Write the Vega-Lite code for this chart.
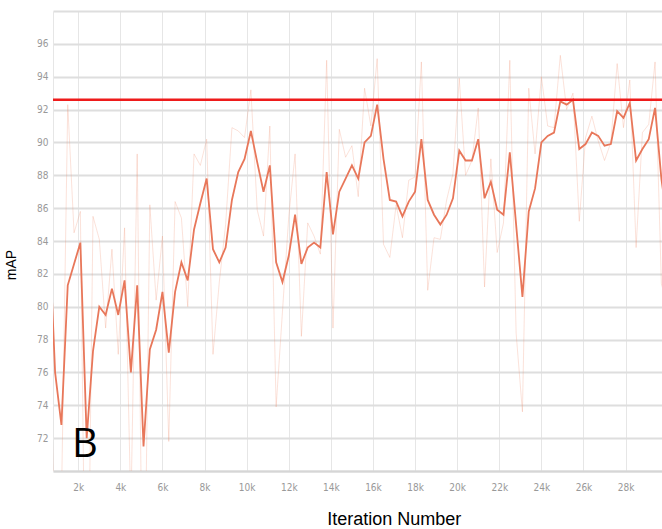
{
  "$schema": "https://vega.github.io/schema/vega-lite/v6.json",
  "width": 609,
  "height": 460,
  "autosize": {"type": "none"},
  "padding": {"left": 53, "top": 11, "right": 0, "bottom": 58},
  "background": "white",
  "config": {
    "view": {"stroke": null},
    "axisY": {
      "labelOverlap": false,
      "grid": true,
      "gridColor": "#dedede",
      "gridWidth": 2,
      "ticks": false,
      "domain": true,
      "domainColor": "#e6e6e6",
      "domainWidth": 1,
      "labelFont": "Liberation Sans Narrow, DejaVu Sans Condensed, sans-serif",
      "labelFontSize": 10,
      "labelColor": "#999999",
      "labelPadding": 5,
      "titleFont": "Liberation Sans",
      "titleFontSize": 14,
      "titleFontWeight": "normal",
      "titleColor": "#000000",
      "titleX": -38,
      "titleY": 253.5,
      "titleAngle": -90,
      "titleBaseline": "alphabetic"
    },
    "axisX": {
      "labelOverlap": false,
      "grid": true,
      "gridColor": "#e6e6e6",
      "gridWidth": 1,
      "ticks": false,
      "domain": true,
      "domainColor": "#d6d6d6",
      "domainWidth": 2,
      "labelFont": "Liberation Sans Narrow, DejaVu Sans Condensed, sans-serif",
      "labelFontSize": 10,
      "labelColor": "#999999",
      "labelPadding": 11,
      "titleFont": "Liberation Sans",
      "titleFontSize": 18,
      "titleFontWeight": "normal",
      "titleColor": "#000000",
      "titleX": 340.7,
      "titleY": 53,
      "titleBaseline": "alphabetic"
    }
  },
  "data": {
    "values": [
      {"iter": 600, "smoothed": 85.0, "raw": 85.0},
      {"iter": 900, "smoothed": 76.0, "raw": 62.5},
      {"iter": 1200, "smoothed": 72.8, "raw": 68.0},
      {"iter": 1500, "smoothed": 81.3, "raw": 92.3},
      {"iter": 1800, "smoothed": 82.6, "raw": 84.5},
      {"iter": 2100, "smoothed": 83.9, "raw": 85.8},
      {"iter": 2400, "smoothed": 72.0, "raw": 54.2},
      {"iter": 2700, "smoothed": 77.3, "raw": 85.5},
      {"iter": 3000, "smoothed": 80.0, "raw": 84.1},
      {"iter": 3300, "smoothed": 79.5, "raw": 78.7},
      {"iter": 3600, "smoothed": 81.1, "raw": 83.5},
      {"iter": 3900, "smoothed": 79.5, "raw": 77.1},
      {"iter": 4200, "smoothed": 81.6, "raw": 84.8},
      {"iter": 4500, "smoothed": 76.0, "raw": 67.6},
      {"iter": 4800, "smoothed": 81.3, "raw": 89.3},
      {"iter": 5100, "smoothed": 71.5, "raw": 56.8},
      {"iter": 5400, "smoothed": 77.4, "raw": 86.2},
      {"iter": 5700, "smoothed": 78.6, "raw": 80.4},
      {"iter": 6000, "smoothed": 80.9, "raw": 84.3},
      {"iter": 6300, "smoothed": 77.2, "raw": 71.8},
      {"iter": 6600, "smoothed": 80.9, "raw": 86.4},
      {"iter": 6900, "smoothed": 82.7, "raw": 85.4},
      {"iter": 7200, "smoothed": 81.6, "raw": 80.0},
      {"iter": 7500, "smoothed": 84.7, "raw": 89.3},
      {"iter": 7800, "smoothed": 86.3, "raw": 88.6},
      {"iter": 8100, "smoothed": 87.8, "raw": 90.2},
      {"iter": 8400, "smoothed": 83.5, "raw": 77.1},
      {"iter": 8700, "smoothed": 82.7, "raw": 81.5},
      {"iter": 9000, "smoothed": 83.6, "raw": 85.0},
      {"iter": 9300, "smoothed": 86.5, "raw": 90.9},
      {"iter": 9600, "smoothed": 88.2, "raw": 90.7},
      {"iter": 9900, "smoothed": 89.0, "raw": 90.3},
      {"iter": 10200, "smoothed": 90.7, "raw": 93.2},
      {"iter": 10500, "smoothed": 88.8, "raw": 85.9},
      {"iter": 10800, "smoothed": 87.0, "raw": 84.3},
      {"iter": 11100, "smoothed": 88.6, "raw": 91.0},
      {"iter": 11400, "smoothed": 82.7, "raw": 73.9},
      {"iter": 11700, "smoothed": 81.5, "raw": 79.7},
      {"iter": 12000, "smoothed": 83.1, "raw": 85.5},
      {"iter": 12300, "smoothed": 85.6, "raw": 89.3},
      {"iter": 12600, "smoothed": 82.6, "raw": 78.2},
      {"iter": 12900, "smoothed": 83.6, "raw": 85.1},
      {"iter": 13200, "smoothed": 83.9, "raw": 84.3},
      {"iter": 13500, "smoothed": 83.6, "raw": 83.2},
      {"iter": 13800, "smoothed": 88.2, "raw": 95.0},
      {"iter": 14100, "smoothed": 84.4, "raw": 78.7},
      {"iter": 14400, "smoothed": 87.0, "raw": 90.8},
      {"iter": 14700, "smoothed": 87.8, "raw": 89.1},
      {"iter": 15000, "smoothed": 88.6, "raw": 89.8},
      {"iter": 15300, "smoothed": 87.8, "raw": 86.7},
      {"iter": 15600, "smoothed": 90.0, "raw": 93.3},
      {"iter": 15900, "smoothed": 90.4, "raw": 91.0},
      {"iter": 16200, "smoothed": 92.3, "raw": 95.1},
      {"iter": 16500, "smoothed": 89.0, "raw": 83.8},
      {"iter": 16800, "smoothed": 86.5, "raw": 83.0},
      {"iter": 17100, "smoothed": 86.4, "raw": 86.2},
      {"iter": 17400, "smoothed": 85.5, "raw": 84.2},
      {"iter": 17700, "smoothed": 86.4, "raw": 87.7},
      {"iter": 18000, "smoothed": 87.0, "raw": 87.9},
      {"iter": 18300, "smoothed": 90.2, "raw": 94.9},
      {"iter": 18600, "smoothed": 86.5, "raw": 81.0},
      {"iter": 18900, "smoothed": 85.6, "raw": 84.2},
      {"iter": 19200, "smoothed": 85.0, "raw": 84.1},
      {"iter": 19500, "smoothed": 85.6, "raw": 86.5},
      {"iter": 19800, "smoothed": 86.6, "raw": 88.1},
      {"iter": 20100, "smoothed": 89.5, "raw": 93.9},
      {"iter": 20400, "smoothed": 88.9, "raw": 88.0},
      {"iter": 20700, "smoothed": 88.9, "raw": 88.9},
      {"iter": 21000, "smoothed": 90.2, "raw": 92.1},
      {"iter": 21300, "smoothed": 86.6, "raw": 81.2},
      {"iter": 21600, "smoothed": 87.6, "raw": 89.0},
      {"iter": 21900, "smoothed": 85.9, "raw": 83.3},
      {"iter": 22200, "smoothed": 85.6, "raw": 85.1},
      {"iter": 22500, "smoothed": 89.4, "raw": 95.0},
      {"iter": 22800, "smoothed": 85.0, "raw": 78.4},
      {"iter": 23100, "smoothed": 80.6, "raw": 73.6},
      {"iter": 23400, "smoothed": 85.8, "raw": 93.3},
      {"iter": 23700, "smoothed": 87.2, "raw": 89.3},
      {"iter": 24000, "smoothed": 90.0, "raw": 94.0},
      {"iter": 24300, "smoothed": 90.4, "raw": 91.0},
      {"iter": 24600, "smoothed": 90.6, "raw": 90.9},
      {"iter": 24900, "smoothed": 92.5, "raw": 95.3},
      {"iter": 25200, "smoothed": 92.3, "raw": 92.0},
      {"iter": 25500, "smoothed": 92.6, "raw": 93.0},
      {"iter": 25800, "smoothed": 89.6, "raw": 85.2},
      {"iter": 26100, "smoothed": 89.9, "raw": 90.3},
      {"iter": 26400, "smoothed": 90.6, "raw": 91.6},
      {"iter": 26700, "smoothed": 90.4, "raw": 90.1},
      {"iter": 27000, "smoothed": 89.8, "raw": 88.9},
      {"iter": 27300, "smoothed": 89.9, "raw": 90.0},
      {"iter": 27600, "smoothed": 91.9, "raw": 94.8},
      {"iter": 27900, "smoothed": 91.5, "raw": 90.9},
      {"iter": 28200, "smoothed": 92.4, "raw": 93.8},
      {"iter": 28500, "smoothed": 88.9, "raw": 83.6},
      {"iter": 28800, "smoothed": 89.6, "raw": 90.6},
      {"iter": 29100, "smoothed": 90.2, "raw": 91.1},
      {"iter": 29400, "smoothed": 92.1, "raw": 94.9},
      {"iter": 29700, "smoothed": 87.8, "raw": 81.4},
      {"iter": 30000, "smoothed": 85.0, "raw": 80.0}
    ]
  },
  "encoding": {
    "x": {
      "field": "iter",
      "type": "quantitative",
      "scale": {"domain": [800, 29730], "nice": false, "zero": false},
      "axis": {
        "title": "Iteration Number",
        "values": [2000, 4000, 6000, 8000, 10000, 12000, 14000, 16000, 18000, 20000, 22000, 24000, 26000, 28000],
        "labelExpr": "(datum.value/1000) + 'k'",
        "labelOverlap": false
      }
    },
    "y": {
      "field": "value",
      "type": "quantitative",
      "scale": {"domain": [70, 98], "nice": false, "zero": false},
      "axis": {
        "title": "mAP",
        "values": [70, 72, 74, 76, 78, 80, 82, 84, 86, 88, 90, 92, 94, 96, 98],
        "labelExpr": "datum.value == 70 || datum.value == 98 ? '' : datum.label",
        "labelOverlap": false,
        "labelSeparation": 0
      }
    }
  },
  "layer": [
    {
      "transform": [{"fold": ["raw"]}],
      "mark": {"type": "line", "color": "#f08a6c", "opacity": 0.25, "strokeWidth": 1, "clip": true}
    },
    {
      "transform": [{"fold": ["smoothed"]}],
      "mark": {"type": "line", "color": "#e8775a", "strokeWidth": 1.8, "clip": true}
    },
    {
      "data": {"values": [{"value": 92.6}]},
      "mark": {"type": "rule", "color": "#ee1b1b", "strokeWidth": 2.5},
      "encoding": {
        "x": {"value": 0},
        "x2": {"value": 609}
      }
    },
    {
      "data": {"values": [{"iter": 2320, "value": 70.85, "label": "B"}]},
      "mark": {"type": "text", "font": "Open Sans", "fontSize": 40, "color": "#000000", "align": "center", "baseline": "alphabetic"},
      "encoding": {
        "text": {"field": "label"}
      }
    }
  ]
}
